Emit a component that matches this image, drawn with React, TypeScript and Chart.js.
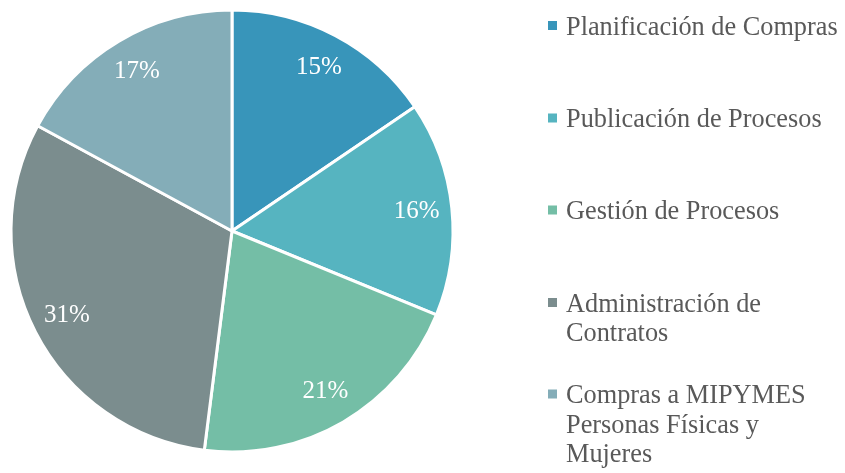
import React, { useEffect, useRef } from "react";
import { Chart, registerables } from "chart.js";

Chart.register(...registerables);

const categories: string[][] = [
  ["Planificación de Compras"],
  ["Publicación de Procesos"],
  ["Gestión de Procesos"],
  ["Administración de", "Contratos"],
  ["Compras a MIPYMES", "Personas Físicas y", "Mujeres"],
];
const values: number[] = [15.5, 15.7, 20.8, 30.9, 17.1];
const percentLabels: string[] = ["15%", "16%", "21%", "31%", "17%"];
const colors: string[] = ["#3895BA", "#56B4C0", "#74BEA6", "#7B8D8E", "#84ADB8"];

const FONT = "'Liberation Serif', 'Times New Roman', serif";

export default function App() {
  const ref = useRef<HTMLCanvasElement>(null);
  useEffect(() => {
    document.body.style.margin = "0";
    const labelPlugin = {
      id: "pctLabels",
      afterDatasetsDraw(chart: any) {
        const ctx = chart.ctx;
        const meta = chart.getDatasetMeta(0);
        ctx.save();
        ctx.font = `25px ${FONT}`;
        ctx.fillStyle = "#ffffff";
        ctx.textAlign = "center";
        ctx.textBaseline = "middle";
        meta.data.forEach((arc: any, i: number) => {
          const { x, y, startAngle, endAngle, outerRadius } = arc.getProps(
            ["x", "y", "startAngle", "endAngle", "outerRadius"],
            true
          );
          const mid = (startAngle + endAngle) / 2;
          const r = outerRadius * 0.84;
          ctx.fillText(percentLabels[i], x + Math.cos(mid) * r, y + Math.sin(mid) * r);
        });
        ctx.restore();
      },
    };
    const legendPlugin = {
      id: "sideLegend",
      afterDraw(chart: any) {
        const ctx = chart.ctx;
        const markerY = [25.5, 118, 210, 302.5, 394];
        const lineH = 29.5;
        ctx.save();
        ctx.font = `26.3px ${FONT}`;
        ctx.textBaseline = "alphabetic";
        ctx.textAlign = "left";
        categories.forEach((lines, i) => {
          ctx.fillStyle = colors[i];
          ctx.fillRect(548, markerY[i] - 4.5, 9, 9);
          ctx.fillStyle = "#595959";
          lines.forEach((t, j) => ctx.fillText(t, 566, markerY[i] + 9 + j * lineH));
        });
        ctx.restore();
      },
    };
    const chart = new Chart(ref.current!, {
      type: "pie",
      data: {
        labels: categories.map((c) => c.join(" ")),
        datasets: [
          {
            data: values,
            backgroundColor: colors,
            borderColor: "#ffffff",
            borderWidth: 3,
          },
        ],
      },
      options: {
        animation: false,
        responsive: false,
        radius: 221,
        layout: { padding: { left: 0, right: 381, top: 0, bottom: 11 } },
        plugins: { legend: { display: false }, tooltip: { enabled: false } },
      },
      plugins: [labelPlugin, legendPlugin],
    });
    return () => chart.destroy();
  }, []);
  return (
    <div style={{ width: 845, height: 473, background: "#fff" }}>
      <canvas ref={ref} width={845} height={473} />
    </div>
  );
}
